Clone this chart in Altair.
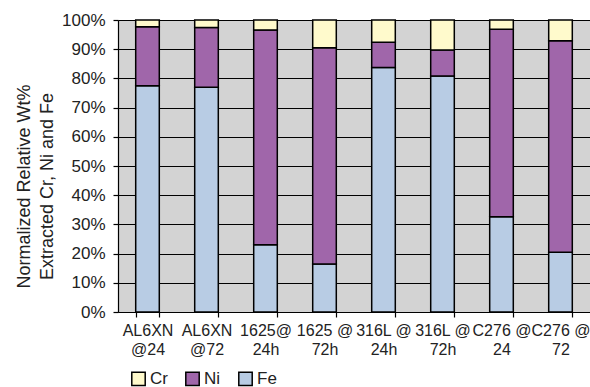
import altair as alt
import pandas as pd

categories = ["AL6XN\n@24", "AL6XN\n@72", "1625@\n24h", "1625 @\n72h",
              "316L @\n24h", "316L @\n72h", "C276 @\n24", "C276 @\n72"]
fe = [77.5, 77.0, 23.0, 16.4, 83.7, 80.8, 32.6, 20.5]
ni = [20.2, 20.4, 73.6, 74.1, 8.7, 8.9, 64.2, 72.4]
cr = [2.3, 2.6, 3.4, 9.5, 7.6, 10.3, 3.2, 7.1]
elements = ["Cr", "Ni", "Fe"]
colors = ["#fffacc", "#a066aa", "#b8cce4"]

rows = []
for i, c in enumerate(categories):
    for el, vals, o in (("Fe", fe, 0), ("Ni", ni, 1), ("Cr", cr, 2)):
        rows.append({"cat": c, "el": el, "val": vals[i] / 100.0, "ord": o})
df = pd.DataFrame(rows)

FONT = "Liberation Sans"

chart = alt.Chart(df).mark_bar(stroke="black", strokeWidth=1.5).encode(
    x=alt.X("cat:N", sort=categories,
            scale=alt.Scale(paddingInner=0.6, paddingOuter=0.3),
            axis=alt.Axis(title=None, labelAngle=0, tickBand="extent",
                          labelExpr="split(datum.label, '\\n')",
                          labelFontSize=16, labelColor="#222", labelFont=FONT,
                          labelPadding=5, labelLineHeight=19,
                          domainColor="black", tickColor="black", tickSize=5,
                          domainWidth=1.2, tickWidth=1.2, grid=False)),
    y=alt.Y("val:Q", stack="zero",
            scale=alt.Scale(domain=[0, 1], nice=False),
            axis=alt.Axis(format="%", values=[i / 10 for i in range(11)],
                          title=["Normalized Relative Wt%", "Extracted Cr, Ni and Fe"],
                          titleFontSize=18, titleFont=FONT, titleFontWeight="normal",
                          titleColor="#222", titlePadding=5, titleLineHeight=23,
                          titleY=166,
                          labelFontSize=17, labelFont=FONT, labelColor="#222",
                          labelPadding=8,
                          domainColor="black", tickColor="black", tickSize=5,
                          domainWidth=1.2, tickWidth=1.2,
                          gridColor="black", gridWidth=1.2)),
    color=alt.Color("el:N", scale=alt.Scale(domain=elements, range=colors),
                    legend=alt.Legend(title=None, orient="none", direction="horizontal",
                                      legendX=12, legendY=350,
                                      symbolType="square", symbolSize=180,
                                      symbolStrokeColor="black", symbolStrokeWidth=1.5,
                                      labelFontSize=17, labelFont=FONT, labelColor="#222",
                                      columnPadding=14, labelOffset=3)),
    order=alt.Order("ord:Q"),
).properties(
    width=472, height=292,
    autosize=alt.AutoSizeParams(type="none"),
    padding={"left": 118, "top": 20, "right": 0, "bottom": 75},
).configure_view(fill="#d3d3d3", stroke=None)

chart.save("out.html", embed_options={"renderer": "svg", "actions": False})
